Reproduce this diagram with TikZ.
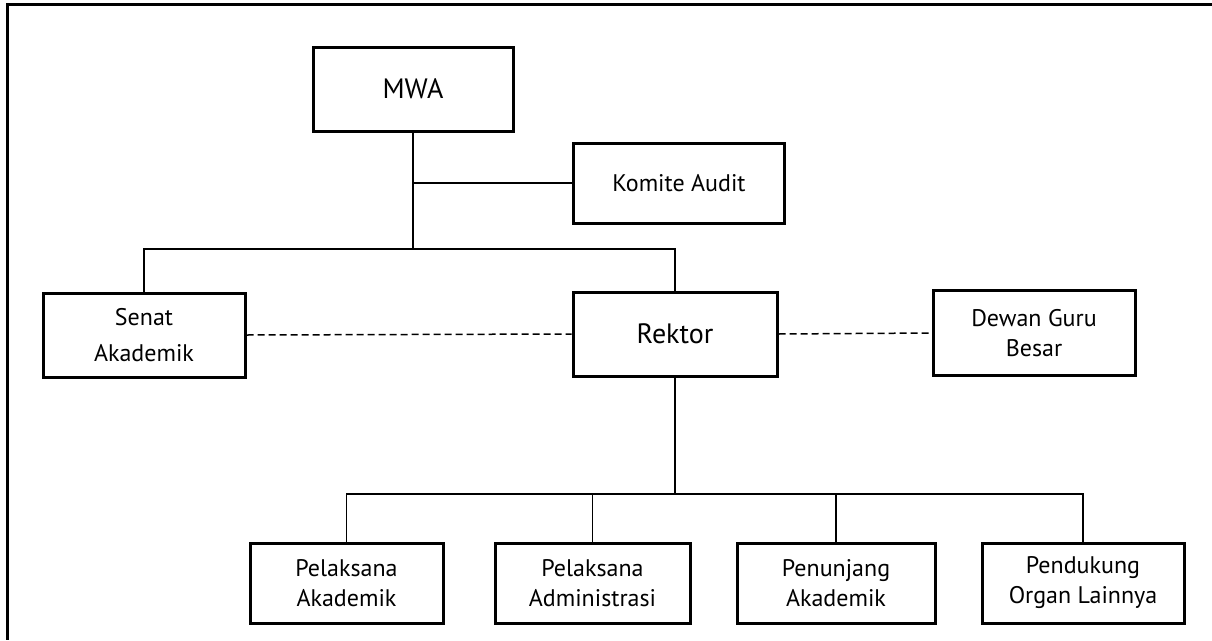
\documentclass[tikz,border=0pt]{standalone}
\usepackage{fontspec}
\setmainfont{PT Sans}
\begin{document}
\begin{tikzpicture}[x=1pt,y=-1pt,
  box/.style={draw=black,line width=3pt,minimum width=#1,align=center,inner sep=0pt},
  big/.style={font=\fontsize{28}{32}\selectfont},
  small/.style={font=\fontsize{24}{30}\selectfont},
  conn/.style={line width=1.8pt},
  dash line/.style={line width=1.5pt,dash pattern=on 7pt off 4pt}]
\useasboundingbox (0,0) rectangle (1212,640);
\fill[white] (0,0) rectangle (1212,640);
% frame
\draw[line width=3pt] (1212,4) -- (7,4) -- (7,640);
% nodes
\node[box=200pt,minimum height=84pt,big] (mwa) at (413,89) {MWA};
\node[box=211pt,minimum height=80pt,small] (komite) at (679,183) {Komite Audit};
\node[box=202pt,minimum height=84pt,font=\fontsize{24}{36}\selectfont] (senat) at (144,335) {Senat\\Akademik};
\node[box=204pt,minimum height=84pt,big] (rektor) at (675,334) {Rektor};
\node[box=202pt,minimum height=85pt,small] (dewan) at (1034,333) {Dewan Guru\\Besar};
\node[box=193pt,minimum height=80pt,small] (pa) at (346.5,583) {Pelaksana\\Akademik};
\node[box=195pt,minimum height=80pt,small] (padm) at (592.5,583) {Pelaksana\\Administrasi};
\node[box=198pt,minimum height=80pt,small] (pen) at (836,583) {Penunjang\\Akademik};
\node[box=202pt,minimum height=80pt,small] (pend) at (1083,583) {Pendukung\\Organ Lainnya};
\coordinate (j1) at (413,249);
\coordinate (j2) at (675,494);
% connectors
\draw[conn] (mwa.south) -- (j1);
\draw[conn] (mwa.south |- komite.west) -- (komite.west);
\draw[conn] (senat.north) |- (j1) -| (rektor.north);
\draw[conn] (rektor.south) -- (j2);
\draw[conn] (pa.north) |- (j2) -| (pend.north);
\draw[conn] (padm.north) -- (padm.north |- j2);
\draw[conn] (pen.north) -- (pen.north |- j2);
\draw[dash line] (senat.east) -- (rektor.west);
\draw[dash line] (rektor.east) -- (dewan.west);
\end{tikzpicture}
\end{document}
